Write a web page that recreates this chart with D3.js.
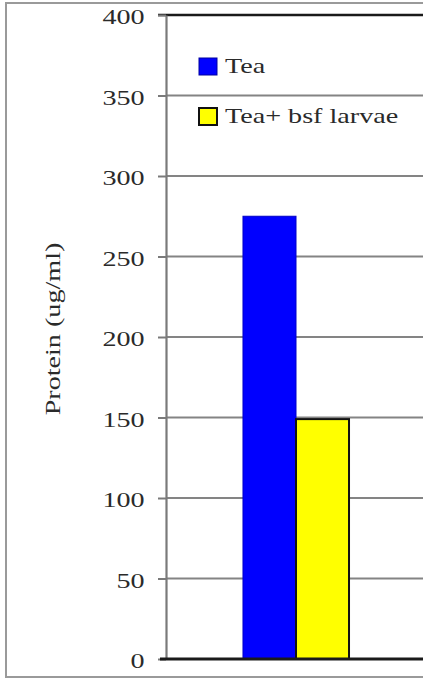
<!DOCTYPE html>
<html>
<head>
<meta charset="utf-8">
<script src="https://cdn.jsdelivr.net/npm/d3@7"></script>
<style>
  html, body { margin: 0; padding: 0; background: #fff; }
  svg { display: block; }
</style>
</head>
<body>
<svg id="chart" width="423" height="680"></svg>
<script>
const categories = ["Protein"];
const seriesNames = ["Tea", "Tea+ bsf larvae"];
const seriesValues = [275, 149];
const seriesColors = ["#0000ff", "#ffff00"];
const yTicks = [0, 50, 100, 150, 200, 250, 300, 350, 400];
const yTitle = "Protein (ug/ml)";

const W = 423, H = 680;
const margin = { left: 166, top: 15, right: -20, bottom: 21 };
const plotR = W - margin.right;
const plotB = H - margin.bottom;
const fontFamily = "'Liberation Serif','Times New Roman',serif";
const SX = 1.34;

const svg = d3.select("#chart");
svg.append("rect").attr("width", W).attr("height", H).attr("fill", "#fff");

// outer frame
svg.append("rect")
  .attr("x", 6).attr("y", 3).attr("width", W + 20).attr("height", 674)
  .attr("fill", "none").attr("stroke", "#9a9a9a").attr("stroke-width", 2);

const y = d3.scaleLinear().domain([0, 400]).range([plotB, margin.top]);
const x0 = d3.scaleBand().domain(categories).range([margin.left, 426]).paddingInner(0).paddingOuter(0.726);
const x1 = d3.scaleBand().domain(seriesNames).range([0, x0.bandwidth()]).padding(0);

// gridlines
svg.append("g").selectAll("line")
  .data(yTicks.filter(t => t > 0 && t < 400))
  .join("line")
  .attr("x1", margin.left).attr("x2", plotR)
  .attr("y1", d => y(d)).attr("y2", d => y(d))
  .attr("stroke", "#848484").attr("stroke-width", 2);

// top border
svg.append("line")
  .attr("x1", margin.left - 8).attr("x2", plotR)
  .attr("y1", y(400)).attr("y2", y(400))
  .attr("stroke", "#1a1a1a").attr("stroke-width", 2.5);

// bars
const data = seriesNames.map((s, i) => ({ s, v: seriesValues[i], c: seriesColors[i], cat: categories[0] }));
svg.append("g").selectAll("rect")
  .data(data)
  .join("rect")
  .attr("x", d => x0(d.cat) + x1(d.s))
  .attr("y", d => y(d.v))
  .attr("width", x1.bandwidth())
  .attr("height", d => y(0) - y(d.v))
  .attr("fill", d => d.c)
  .attr("stroke", (d, i) => i === 0 ? "#0000c8" : "#111")
  .attr("stroke-width", (d, i) => i === 0 ? 1 : 2);

// y axis
const axis = svg.append("g")
  .attr("transform", `translate(${margin.left},0)`)
  .call(d3.axisLeft(y).tickValues(yTicks).tickSize(8).tickSizeOuter(0).tickPadding(8).tickFormat(d3.format("d")));
axis.select(".domain").attr("stroke", "#7a7a7a").attr("stroke-width", 2.2);
axis.selectAll(".tick line").attr("stroke", "#7a7a7a").attr("stroke-width", 2);
axis.selectAll(".tick text")
  .attr("font-family", fontFamily).attr("font-size", 21)
  .attr("fill", "#2a2a2a").attr("dy", "0.42em")
  .attr("transform", `scale(${SX},1)`);

// zero line
svg.append("line")
  .attr("x1", margin.left - 6).attr("x2", plotR)
  .attr("y1", y(0)).attr("y2", y(0))
  .attr("stroke", "#1a1a1a").attr("stroke-width", 3);

// y title
svg.append("text")
  .attr("transform", `translate(60,${(238 + 420) / 2}) rotate(-90) scale(${SX},1)`)
  .attr("text-anchor", "middle")
  .attr("font-family", fontFamily).attr("font-size", 21)
  .attr("fill", "#2a2a2a")
  .text(yTitle);

// legend
const legend = svg.append("g").attr("transform", "translate(199,58)");
const li = legend.selectAll("g").data(data).join("g")
  .attr("transform", (d, i) => `translate(0,${i * 50})`);
li.append("rect")
  .attr("x", 0).attr("y", (d, i) => i === 0 ? 0 : 0)
  .attr("width", 18).attr("height", 17)
  .attr("fill", d => d.c)
  .attr("stroke", (d, i) => i === 0 ? "#0000a0" : "#111")
  .attr("stroke-width", (d, i) => i === 0 ? 1 : 2);
li.append("text")
  .attr("transform", `translate(26,15) scale(${SX},1)`)
  .attr("font-family", fontFamily).attr("font-size", 21)
  .attr("fill", "#2a2a2a")
  .text(d => d.s);
</script>
</body>
</html>
